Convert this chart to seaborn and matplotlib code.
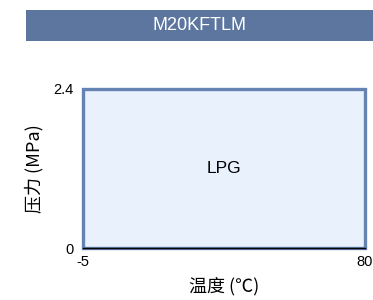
import matplotlib
matplotlib.use("Agg")
import matplotlib.pyplot as plt
import matplotlib.patches as mpatches
import seaborn as sns

# operating region of the product
title = "M20KFTLM"
region_name = "LPG"
temp_range = [-5, 80]        # 温度 (℃)
pressure_range = [0, 2.4]    # 压力 (MPa)
x_ticks = [-5, 80]
y_ticks = [0, 2.4]
y_tick_labels = ["0", "2.4"]

sns.set_theme(style="white")
plt.rcParams["font.family"] = ["Liberation Sans", "Noto Sans CJK SC", "DejaVu Sans"]
plt.rcParams["axes.unicode_minus"] = False
cjk = ["Noto Sans CJK SC", "Liberation Sans"]

W, H = 373, 300
fig = plt.figure(figsize=(W / 100, H / 100), dpi=100)

# title banner
fig.patches.append(mpatches.Rectangle((26 / W, 1 - 41 / H), 1 - 26 / W, 31 / H,
                                      transform=fig.transFigure, facecolor="#5c76a0",
                                      edgecolor="none", zorder=0))
fig.text(199 / W, 1 - 25.5 / H, title, color="white", fontsize=13,
         ha="center", va="center")

ax = fig.add_axes([83 / W, 1 - 248 / H, (365 - 83) / W, (248 - 89) / H])

xs = [temp_range[0], temp_range[0], temp_range[1], temp_range[1]]
ys = [pressure_range[0], pressure_range[1], pressure_range[1], pressure_range[0]]
ax.fill(xs, ys, facecolor="#e9f1fc", edgecolor="#6483b3", linewidth=2.4,
        clip_on=False, zorder=1)
ax.text(sum(temp_range) / 2, sum(pressure_range) / 2, region_name,
        ha="center", va="center", fontsize=12.5, color="black")

ax.set_xlim(temp_range)
ax.set_ylim(pressure_range)
ax.set_xticks(x_ticks)
ax.set_yticks(y_ticks)
ax.set_yticklabels(y_tick_labels)
ax.tick_params(axis="both", length=0, labelsize=10.5, colors="black")
ax.tick_params(axis="x", pad=5)
ax.tick_params(axis="y", pad=7)

for s in ["top", "right", "left"]:
    ax.spines[s].set_visible(False)
ax.spines["bottom"].set_color("black")
ax.spines["bottom"].set_linewidth(1)
ax.spines["bottom"].set_zorder(3)

ax.set_xlabel("温度 (℃)", fontsize=13, labelpad=6, color="black", family=cjk)
ax.set_ylabel("压力 (MPa)", fontsize=13, labelpad=7, color="black", family=cjk)
ax.set_facecolor("white")

fig.savefig("out.png", dpi=100)
